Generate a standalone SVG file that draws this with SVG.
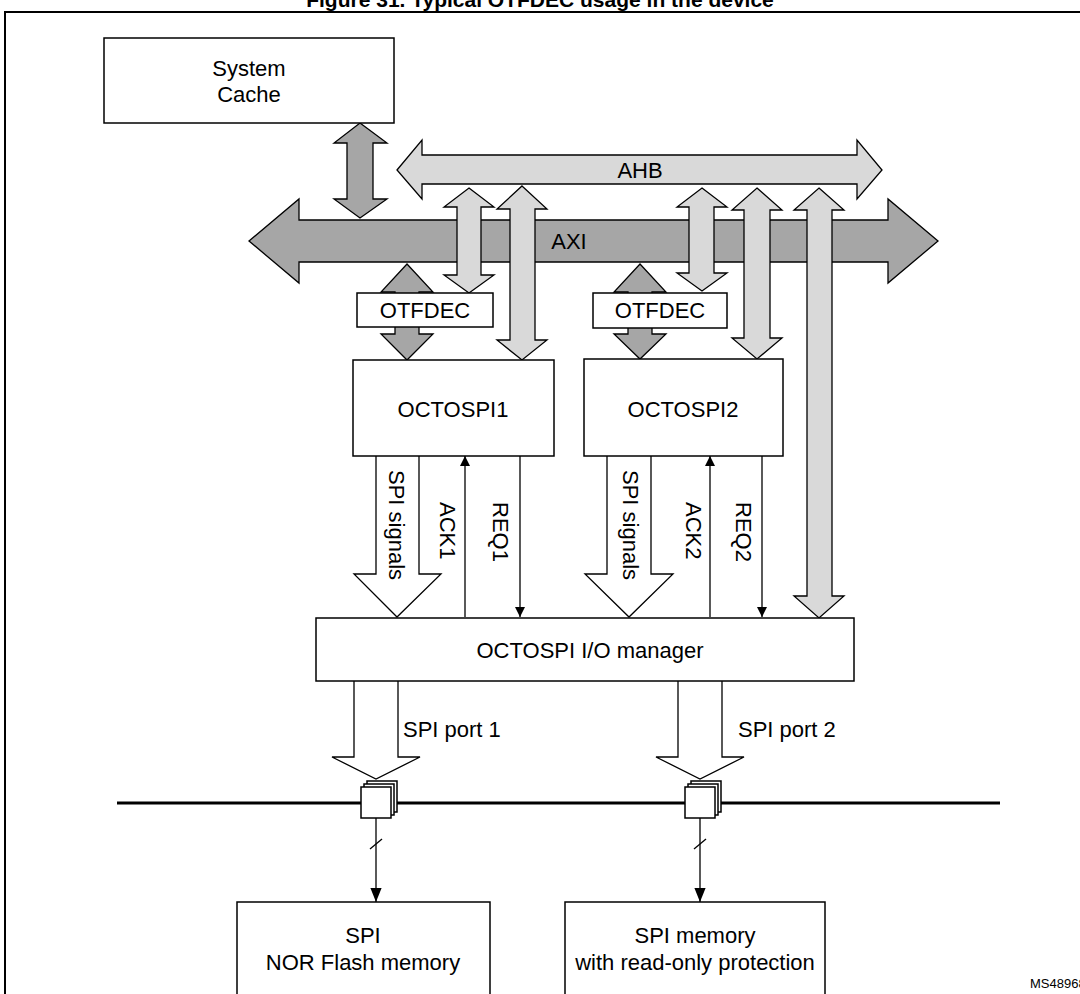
<svg xmlns="http://www.w3.org/2000/svg" width="1080" height="994" viewBox="0 0 1080 994">
<style>
text{font-family:"Liberation Sans",Arial,sans-serif;fill:#000}
.lbl{font-size:22px}
.box{fill:#fff;stroke:#000;stroke-width:1.5}
.dk{fill:#a6a6a6;stroke:#000;stroke-width:1.3;stroke-linejoin:miter}
.lt{fill:#d9d9d9;stroke:#000;stroke-width:1.3}
.ho{fill:#fff;stroke:#000;stroke-width:1.3}
.ln{stroke:#000;stroke-width:1.3;fill:none}
</style>
<defs>
<marker id="ah" viewBox="0 0 10 10" refX="10" refY="5" markerWidth="10" markerHeight="10" markerUnits="userSpaceOnUse" orient="auto"><path d="M0,0 L10,5 L0,10 z" fill="#000"/></marker>
<marker id="ahb" viewBox="0 0 10 10" refX="10" refY="5" markerWidth="14" markerHeight="14" markerUnits="userSpaceOnUse" orient="auto"><path d="M0,1 L10,5 L0,9 z" fill="#000"/></marker>
<g id="stack">
<rect x="6" y="-6" width="30" height="31" class="box" stroke-width="1.5"/>
<rect x="3" y="-3" width="30" height="31" class="box" stroke-width="1.5"/>
<rect x="0" y="0" width="30" height="31" class="box" stroke-width="2"/>
</g>
</defs>
<text x="540" y="7" text-anchor="middle" font-size="21" font-weight="bold">Figure 31. Typical OTFDEC usage in the device</text>
<rect x="5" y="12" width="1090" height="1000" fill="none" stroke="#000" stroke-width="2"/>

<g id="connectors">
<path class="lt" d="M397,170 L422,140 L422,155 L857,155 L857,140 L882,170 L857,199 L857,184 L422,184 L422,199 Z"/>
<text class="lbl" x="640" y="178" text-anchor="middle">AHB</text>
<path class="dk" d="M360,123 L387,143 L373,143 L373,199 L387,199 L360,218 L334,199 L347,199 L347,143 L334,143 Z"/>
<path class="dk" d="M249,241 L299,199 L299,220 L888,220 L888,199 L938,241 L888,283 L888,262 L299,262 L299,283 Z"/>
<text class="lbl" x="569" y="249" text-anchor="middle">AXI</text>
<path class="dk" d="M407,264 L433,292 L419,292 L419,334 L433,334 L407,360 L381,334 L395,334 L395,292 L381,292 Z"/>
<path class="lt" d="M469,188 L494,207 L481,207 L481,275 L494,275 L469,293 L444,275 L457,275 L457,207 L444,207 Z"/>
<path class="lt" d="M522,186 L547,209 L535,209 L535,340 L547,340 L522,360 L497,340 L510,340 L510,209 L497,209 Z"/>
<path class="dk" d="M640,264 L666,292 L652,292 L652,334 L666,334 L640,359 L614,334 L628,334 L628,292 L614,292 Z"/>
<path class="lt" d="M702,188 L727,207 L714,207 L714,273 L727,273 L702,291 L677,273 L689,273 L689,207 L677,207 Z"/>
<path class="lt" d="M757,188 L782,210 L770,210 L770,338 L782,338 L757,359 L732,338 L744,338 L744,210 L732,210 Z"/>
<path class="lt" d="M819,188 L844,210 L832,210 L832,596 L844,596 L819,618 L794,596 L807,596 L807,210 L794,210 Z"/>
<path class="ho" d="M376,456 L376,574 L354,574 L397,617 L441,574 L419,574 L419,456"/>
<text class="lbl" transform="translate(389,470) rotate(90)">SPI signals</text>
<line class="ln" x1="465" y1="617" x2="465" y2="456" marker-end="url(#ah)"/>
<text class="lbl" transform="translate(440,502) rotate(90)">ACK1</text>
<line class="ln" x1="520" y1="456" x2="520" y2="617" marker-end="url(#ah)"/>
<text class="lbl" transform="translate(493,502) rotate(90)">REQ1</text>
<path class="ho" d="M607,456 L607,574 L585,574 L629,617 L673,574 L651,574 L651,456"/>
<text class="lbl" transform="translate(623,470) rotate(90)">SPI signals</text>
<line class="ln" x1="710" y1="617" x2="710" y2="456" marker-end="url(#ah)"/>
<text class="lbl" transform="translate(686,502) rotate(90)">ACK2</text>
<line class="ln" x1="762" y1="456" x2="762" y2="617" marker-end="url(#ah)"/>
<text class="lbl" transform="translate(736,502) rotate(90)">REQ2</text>
<path class="ho" d="M354,681 L354,757 L332,757 L376,779 L420,757 L398,757 L398,681"/>
<text class="lbl" x="403" y="737" font-size="20">SPI port 1</text>
<path class="ho" d="M678,681 L678,757 L656,757 L700,779 L744,757 L722,757 L722,681"/>
<text class="lbl" x="738" y="737" font-size="20">SPI port 2</text>
<line x1="117" y1="803" x2="1000" y2="803" stroke="#000" stroke-width="3"/>
<line class="ln" x1="376" y1="818" x2="376" y2="902" marker-end="url(#ahb)"/>
<line class="ln" x1="370" y1="849" x2="382" y2="839"/>
<line class="ln" x1="700" y1="818" x2="700" y2="902" marker-end="url(#ahb)"/>
<line class="ln" x1="694" y1="849" x2="706" y2="839"/>
</g>

<g id="conn1"><use href="#stack" x="361" y="787"/></g>
<g id="conn2"><use href="#stack" x="685" y="787"/></g>

<g id="system-cache"><rect class="box" x="104" y="38" width="290" height="85"/>
<text class="lbl" x="249" y="76" text-anchor="middle">System</text>
<text class="lbl" x="249" y="102" text-anchor="middle">Cache</text></g>
<g id="otfdec1"><rect class="box" x="357" y="293" width="136" height="34" stroke-width="2"/>
<text class="lbl" x="425" y="318" text-anchor="middle">OTFDEC</text></g>
<g id="otfdec2"><rect class="box" x="593" y="293" width="134" height="35" stroke-width="2"/>
<text class="lbl" x="660" y="318" text-anchor="middle">OTFDEC</text></g>
<g id="octospi1"><rect class="box" x="353" y="360" width="201" height="96"/>
<text class="lbl" x="453" y="417" text-anchor="middle">OCTOSPI1</text></g>
<g id="octospi2"><rect class="box" x="584" y="359" width="199" height="97"/>
<text class="lbl" x="683" y="417" text-anchor="middle">OCTOSPI2</text></g>
<g id="io-manager"><rect class="box" x="316" y="618" width="538" height="63"/>
<text class="lbl" x="590" y="658" text-anchor="middle">OCTOSPI I/O manager</text></g>
<g id="nor"><rect class="box" x="237" y="902" width="253" height="100"/>
<text class="lbl" x="363" y="943" text-anchor="middle">SPI</text>
<text class="lbl" x="363" y="970" text-anchor="middle">NOR Flash memory</text></g>
<g id="rom"><rect class="box" x="565" y="902" width="260" height="100"/>
<text class="lbl" x="695" y="943" text-anchor="middle">SPI memory</text>
<text class="lbl" x="695" y="970" text-anchor="middle">with read-only protection</text></g>
<text x="1030" y="988" font-size="13">MS48968V2</text>
</svg>
